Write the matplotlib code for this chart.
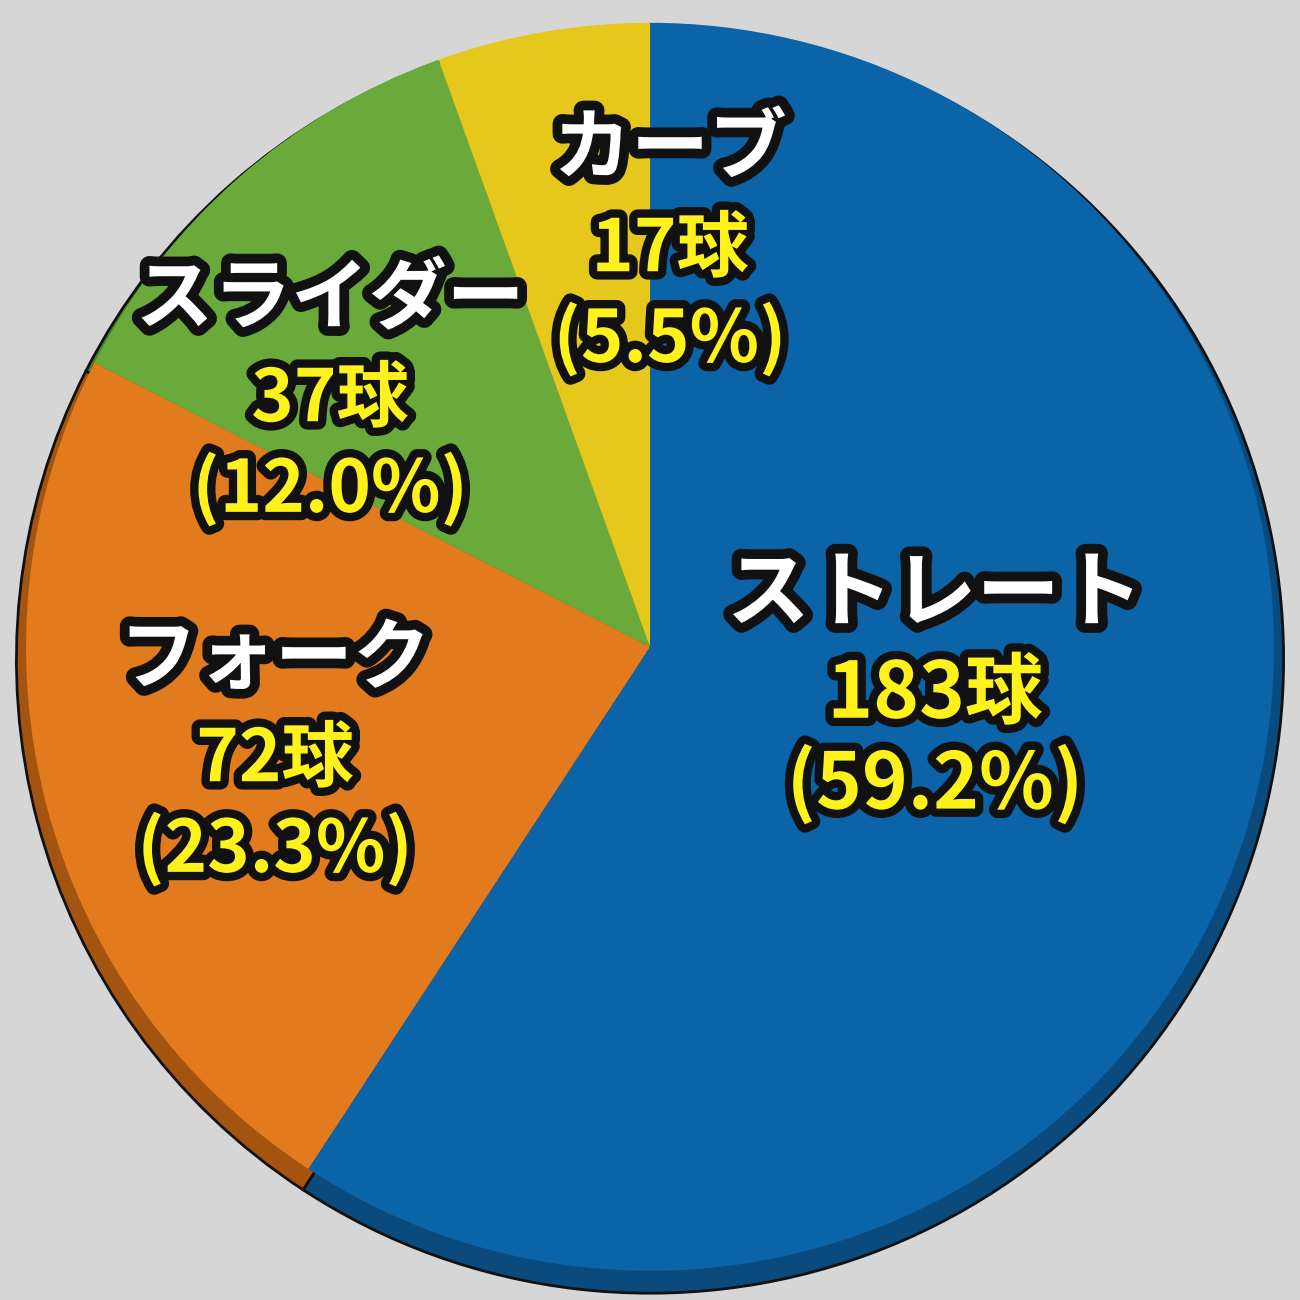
import matplotlib.pyplot as plt
import matplotlib.patheffects as pe

plt.rcParams['font.family'] = ['Noto Sans CJK JP', 'DejaVu Sans']

pitches = ["ストレート", "フォーク", "スライダー", "カーブ"]
counts = [183, 72, 37, 17]
percents = ["59.2%", "23.3%", "12.0%", "5.5%"]
colors = ["#0b63a8", "#e27a1e", "#69aa3b", "#e6c81c"]
shadow_colors = ["#0a4a7c", "#a55410", "#4c7f28", "#b09410"]

# label anchor positions in pixels (x, y of pitch name line)
label_px = [(935, 595), (275, 660), (330, 300), (670, 150)]

fig = plt.figure(figsize=(13, 13), dpi=100)
fig.patch.set_facecolor("#d6d6d6")
ax = fig.add_axes([0, 0, 1, 1])
ax.set_facecolor("#d6d6d6")
R = 640

# darker rim offset for a slight 3D look
ax.pie(counts, colors=shadow_colors, startangle=90, counterclock=False,
       radius=0.99, center=(0, -0.015),
       wedgeprops={"edgecolor": "#111111", "linewidth": 2})
ax.pie(counts, colors=colors, startangle=90, counterclock=False,
       radius=0.975, center=(0, 0.005),
       wedgeprops={"edgecolor": "none"})

ax.set_xlim(-650 / R, 650 / R)
ax.set_ylim(-650 / R, 650 / R)
ax.set_aspect("equal")
ax.axis("off")

white_fx = [pe.withStroke(linewidth=14, foreground="#111111")]
yellow_fx = [pe.withStroke(linewidth=12, foreground="#111111")]


def to_data(px, py):
    return (px - 650) / R, (650 - py) / R


for name, n, pct, (px, py) in zip(pitches, counts, percents, label_px):
    x, y = to_data(px, py)
    big = name == "ストレート"
    fs = 60 if big else 56
    ax.text(x, y, name, color="white", fontsize=fs, fontweight="bold",
            ha="center", va="center", path_effects=white_fx)
    ax.text(x, y - 100 / R, f"{n}球", color="#fff21a", fontsize=fs - 4,
            fontweight="bold", ha="center", va="center", path_effects=yellow_fx)
    ax.text(x, y - 190 / R, f"({pct})", color="#fff21a", fontsize=fs - 4,
            fontweight="bold", ha="center", va="center", path_effects=yellow_fx)

fig.savefig("out.png", dpi=100, facecolor=fig.get_facecolor())
